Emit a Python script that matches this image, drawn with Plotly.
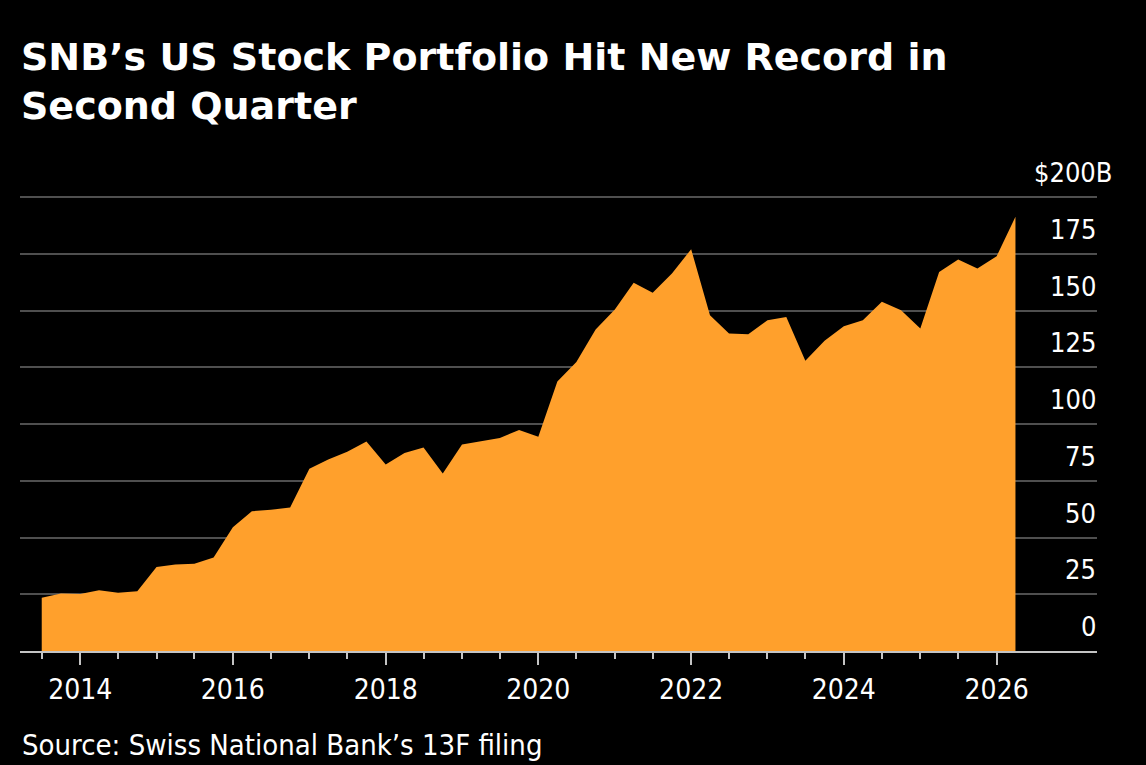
import pandas as pd
import plotly.graph_objects as go

# SNB US stock holdings, $ billions, quarterly
values = [
    23.5, 25.3, 25.1, 26.8, 25.7, 26.3, 37.0, 38.1, 38.5, 41.2,
    54.6, 61.6, 62.3, 63.2, 80.3, 84.4, 87.8, 92.3, 82.2, 87.3,
    89.7, 78.2, 91.0, 92.5, 93.9, 97.4, 94.4, 118.8, 127.4, 141.7,
    150.5, 162.3, 157.9, 166.4, 177.1, 148.0, 139.9, 139.6, 145.8, 147.2,
    127.9, 136.7, 143.2, 145.8, 153.9, 150.2, 142.1, 167.1, 172.6, 168.6,
    174.0, 191.4,
]
quarters = pd.date_range("2013-07-01", periods=len(values), freq="QS")

y_ticks = [0, 25, 50, 75, 100, 125, 150, 175, 200]
y_labels = ["0", "25", "50", "75", "100", "125", "150", "175", "$200B"]

title = "SNB’s US Stock Portfolio Hit New Record in<br>Second Quarter"
source = "Source: Swiss National Bank’s 13F filing"

ORANGE = "#ffa02c"
GRID = "#4f4f4f"
AXIS = "#c4c4c4"
NARROW = "DejaVu Sans Condensed, Liberation Sans Narrow, Roboto Condensed, sans-serif"

fig = go.Figure()
fig.add_trace(go.Scatter(
    x=quarters, y=values,
    mode="lines", fill="tozeroy",
    line=dict(width=0, color=ORANGE),
    fillcolor=ORANGE,
    hoverinfo="skip",
))

# y labels sit just above their gridlines at the right edge (Bloomberg style);
# the unit suffix on the top label hangs past the gridline end
y_annotations = [
    dict(text=lab, showarrow=False,
         xref="paper", yref="y", x=1, y=val,
         xanchor="right", yanchor="bottom",
         xshift=17 if lab.endswith("B") else 1, yshift=7,
         font=dict(family=NARROW, size=27, color="#ffffff"))
    for val, lab in zip(y_ticks, y_labels)
]

fig.update_layout(
    width=1146, height=765,
    paper_bgcolor="#000000", plot_bgcolor="#000000",
    margin=dict(l=20, r=49, t=195, b=114),
    showlegend=False,
    title=dict(
        text=title,
        font=dict(family="DejaVu Sans", size=38, color="#ffffff", weight="bold"),
        xref="container", yref="container",
        x=21 / 1146, xanchor="left",
        y=1 - 70 / 765, yanchor="top",
    ),
    annotations=y_annotations + [dict(
        text=source, showarrow=False,
        xref="paper", yref="paper", x=0, xanchor="left",
        y=-0.207, yanchor="middle",
        font=dict(family=NARROW, size=29, color="#ffffff"),
    )],
)

# half-year ticks only over the span of the data
fig.update_xaxes(
    type="date",
    range=["2013-03-19", "2027-04-26"],
    tick0="2014-01-01", dtick="M24", tickformat="%Y",
    ticks="outside", ticklen=12, tickwidth=2, tickcolor=AXIS,
    showline=True, linecolor=AXIS, linewidth=2,
    showgrid=False, zeroline=False,
    minor=dict(tickmode="array", tickvals=list(quarters[::2]), ticks="outside",
               ticklen=6, tickwidth=2, tickcolor=AXIS, showgrid=False),
    tickfont=dict(family=NARROW, size=28, color="#ffffff"),
    fixedrange=True,
)

fig.update_yaxes(
    side="right", range=[0, 201],
    tickvals=y_ticks, showticklabels=False, ticks="",
    showgrid=True, gridcolor=GRID, gridwidth=2,
    zeroline=False, showline=False,
    fixedrange=True,
)

fig.write_html("out.html", config={"displayModeBar": False},
               post_script="document.body.style.margin='0';")
